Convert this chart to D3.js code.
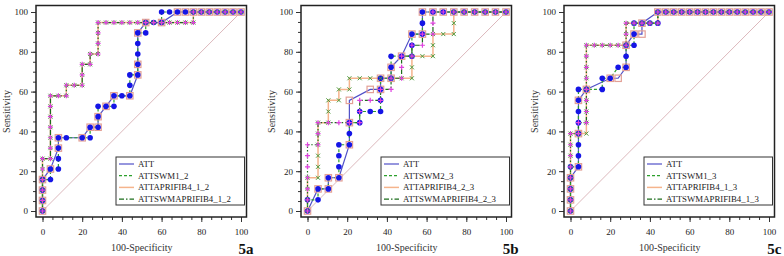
<!DOCTYPE html>
<html>
<head>
<meta charset="utf-8">
<script src="https://cdn.jsdelivr.net/npm/d3@7"></script>
<style>
body { margin: 0; background: #fff; }
svg { display: block; }
text { font-family: "Liberation Serif", "Times New Roman", serif; }
</style>
</head>
<body>
<div id="chart"></div>
<script>
// ROC points [100-Specificity, Sensitivity]

// panel 5a
const a_ATT = [[0,0],[0,5.3],[0,10.5],[0,15.8],[4,21.1],[8,31.6],[8,36.8],[20,36.8],[24,42.1],[28,42.1],[28,47.4],[32,52.6],[36,57.9],[44,57.9],[48,68.4],[48,73.7],[48,89.5],[52,94.7],[60,94.7],[68,100],[72,100],[76,100],[80,100],[84,100],[88,100],[92,100],[96,100],[100,100]]
const a_SWM = [[0,0],[0,5.3],[0,10.5],[0,15.8],[4,15.8],[4,21.1],[8,21.1],[8,26.3],[8,31.6],[8,36.8],[12,36.8],[20,36.8],[24,36.8],[24,42.1],[28,42.1],[28,47.4],[28,52.6],[32,52.6],[36,52.6],[36,57.9],[40,57.9],[44,57.9],[44,63.2],[44,68.4],[48,68.4],[48,73.7],[48,78.9],[48,84.2],[48,89.5],[52,89.5],[52,94.7],[56,94.7],[60,94.7],[60,100],[64,100],[68,100],[72,100],[76,100],[80,100],[84,100],[88,100],[92,100],[96,100],[100,100]]
const a_APRI = [[0,0],[0,5.3],[0,10.5],[0,15.8],[0,21.1],[0,26.3],[4,26.3],[4,31.6],[4,36.8],[4,42.1],[4,47.4],[4,52.6],[4,57.9],[8,57.9],[12,57.9],[12,63.2],[16,63.2],[20,63.2],[20,68.4],[20,73.7],[24,73.7],[24,78.9],[28,78.9],[28,84.2],[28,89.5],[28,94.7],[32,94.7],[36,94.7],[40,94.7],[44,94.7],[48,94.7],[52,94.7],[56,94.7],[60,94.7],[64,94.7],[68,94.7],[72,94.7],[76,94.7],[76,100],[80,100],[84,100],[88,100],[92,100],[96,100],[100,100]]
const a_SWMAPRI = [[0,0],[0,5.3],[0,10.5],[0,15.8],[0,21.1],[0,26.3],[4,26.3],[4,31.6],[4,36.8],[4,42.1],[4,47.4],[4,52.6],[4,57.9],[8,57.9],[12,57.9],[12,63.2],[16,63.2],[20,63.2],[20,68.4],[20,73.7],[24,73.7],[24,78.9],[28,78.9],[28,84.2],[28,89.5],[28,94.7],[32,94.7],[36,94.7],[40,94.7],[44,94.7],[48,94.7],[52,94.7],[56,94.7],[60,94.7],[64,94.7],[68,94.7],[72,94.7],[76,94.7],[76,100],[80,100],[84,100],[88,100],[92,100],[96,100],[100,100]]

// panel 5b
const b_ATT = [[0,0],[5.3,11.1],[10.5,11.1],[10.5,16.7],[15.8,16.7],[21.1,33.3],[21.1,44.4],[21.1,55.6],[31.6,61.1],[36.8,61.1],[36.8,66.7],[42.1,66.7],[42.1,72.2],[47.4,77.8],[52.6,88.9],[57.9,88.9],[57.9,100],[63.2,100],[68.4,100],[73.7,100],[78.9,100],[84.2,100],[89.5,100],[94.7,100],[100,100]]
const b_SWM = [[0,0],[0,5.6],[5.3,5.6],[5.3,11.1],[10.5,11.1],[10.5,16.7],[15.8,16.7],[15.8,22.2],[15.8,27.8],[15.8,33.3],[21.1,33.3],[21.1,38.9],[21.1,44.4],[26.3,44.4],[26.3,50],[31.6,50],[36.8,50],[36.8,55.6],[36.8,61.1],[36.8,66.7],[42.1,66.7],[42.1,72.2],[42.1,77.8],[47.4,77.8],[52.6,77.8],[52.6,83.3],[52.6,88.9],[57.9,88.9],[57.9,94.4],[57.9,100],[63.2,100],[68.4,100],[73.7,100],[78.9,100],[84.2,100],[89.5,100],[94.7,100],[100,100]]
const b_APRI = [[0,0],[0,5.6],[0,11.1],[0,16.7],[5.3,16.7],[5.3,22.2],[5.3,27.8],[5.3,33.3],[5.3,38.9],[5.3,44.4],[10.5,44.4],[10.5,50],[10.5,55.6],[15.8,55.6],[15.8,61.1],[21.1,61.1],[21.1,66.7],[26.3,66.7],[31.6,66.7],[36.8,66.7],[42.1,66.7],[47.4,66.7],[52.6,66.7],[52.6,72.2],[52.6,77.8],[57.9,77.8],[63.2,77.8],[63.2,83.3],[63.2,88.9],[68.4,88.9],[73.7,88.9],[73.7,94.4],[73.7,100],[78.9,100],[84.2,100],[89.5,100],[94.7,100],[100,100]]
const b_SWMAPRI = [[0,0],[0,5.6],[0,11.1],[0,16.7],[0,22.2],[0,27.8],[0,33.3],[5.3,33.3],[5.3,38.9],[5.3,44.4],[10.5,44.4],[15.8,44.4],[21.1,44.4],[26.3,44.4],[26.3,50],[26.3,55.6],[31.6,55.6],[36.8,55.6],[36.8,61.1],[42.1,61.1],[42.1,66.7],[47.4,66.7],[47.4,72.2],[47.4,77.8],[52.6,77.8],[52.6,83.3],[57.9,83.3],[57.9,88.9],[63.2,88.9],[63.2,94.4],[63.2,100],[68.4,100],[73.7,100],[78.9,100],[84.2,100],[89.5,100],[94.7,100],[100,100]]

// panel 5c
const c_ATT = [[0,0],[0,5.6],[0,11.1],[0,16.7],[4,22.2],[4,38.9],[4,55.6],[8,61.1],[20,66.7],[24,66.7],[28,72.2],[28,83.3],[32,88.9],[36,88.9],[36,94.4],[44,100],[48,100],[52,100],[56,100],[60,100],[64,100],[68,100],[72,100],[76,100],[80,100],[84,100],[88,100],[92,100],[96,100],[100,100]]
const c_SWM = [[0,0],[0,5.6],[0,11.1],[0,16.7],[0,22.2],[4,22.2],[4,27.8],[4,33.3],[4,38.9],[4,44.4],[4,50],[4,55.6],[4,61.1],[8,61.1],[16,61.1],[16,66.7],[20,66.7],[24,72.2],[28,72.2],[28,77.8],[28,83.3],[32,83.3],[32,88.9],[32,94.4],[36,94.4],[40,94.4],[44,94.4],[44,100],[48,100],[52,100],[56,100],[60,100],[64,100],[68,100],[72,100],[76,100],[80,100],[84,100],[88,100],[92,100],[96,100],[100,100]]
const c_APRI = [[0,0],[0,5.6],[0,11.1],[0,16.7],[0,22.2],[0,27.8],[0,33.3],[0,38.9],[4,38.9],[8,38.9],[8,44.4],[8,50],[8,55.6],[8,61.1],[8,66.7],[8,72.2],[8,77.8],[8,83.3],[12,83.3],[16,83.3],[20,83.3],[24,83.3],[28,83.3],[28,88.9],[28,94.4],[32,94.4],[36,94.4],[40,94.4],[44,94.4],[44,100],[48,100],[52,100],[56,100],[60,100],[64,100],[68,100],[72,100],[76,100],[80,100],[84,100],[88,100],[92,100],[96,100],[100,100]]
const c_SWMAPRI = [[0,0],[0,5.6],[0,11.1],[0,16.7],[0,22.2],[0,27.8],[0,33.3],[0,38.9],[4,38.9],[4,44.4],[8,44.4],[8,50],[8,55.6],[8,61.1],[8,66.7],[8,72.2],[8,77.8],[8,83.3],[12,83.3],[16,83.3],[20,83.3],[24,83.3],[28,83.3],[28,88.9],[28,94.4],[32,94.4],[36,94.4],[40,94.4],[44,94.4],[44,100],[48,100],[52,100],[56,100],[60,100],[64,100],[68,100],[72,100],[76,100],[80,100],[84,100],[88,100],[92,100],[96,100],[100,100]]

const legendA = ['ATT', 'ATTSWM1_2', 'ATTAPRIFIB4_1_2', 'ATTSWMAPRIFIB4_1_2']
const legendB = ['ATT', 'ATTSWM2_3', 'ATTAPRIFIB4_2_3', 'ATTSWMAPRIFIB4_2_3']
const legendC = ['ATT', 'ATTSWM1_3', 'ATTAPRIFIB4_1_3', 'ATTSWMAPRIFIB4_1_3']
const panelLabels = ['5a', '5b', '5c']
const majorTicks = [0, 20, 40, 60, 80, 100]
const minorTicks = [0,5,10,15,20,25,30,35,40,45,50,55,60,65,70,75,80,85,90,95,100]

const panels = [
    { label: panelLabels[0], x0: 42.5, names: legendA, data: [a_ATT, a_SWM, a_APRI, a_SWMAPRI] },
    { label: panelLabels[1], x0: 307.5, names: legendB, data: [b_ATT, b_SWM, b_APRI, b_SWMAPRI] },
    { label: panelLabels[2], x0: 570.5, names: legendC, data: [c_ATT, c_SWM, c_APRI, c_SWMAPRI] }
]

// line styles per series: ATT, SWM, APRI, SWMAPRI
const lineStyle = [
    { color: '#5050c8', dash: null, width: 1.2 },
    { color: '#2ca02c', dash: '3,2', width: 1.2 },
    { color: '#f5b48c', dash: null, width: 1.5 },
    { color: '#1d6e1d', dash: '5,2,1.5,2', width: 1.2 }
]

const width = 784, height = 256
const plotW = 198.5
const yTop = 12, yBottom = 211

const svg = d3.select('#chart')
    .append('svg')
    .attr('width', width)
    .attr('height', height)

panels.forEach(p => {
    const xScale = d3.scaleLinear().domain([0, 100]).range([p.x0, p.x0 + plotW])
    const yScale = d3.scaleLinear().domain([0, 100]).range([yBottom, yTop])

    const frameL = p.x0 - 6.5, frameR = p.x0 + plotW + 5.5
    const frameT = 5.5, frameB = 217

    const g = svg.append('g')

    // axes (major + minor ticks)
    const xMajor = g.append('g')
        .attr('transform', `translate(0, ${frameB})`)
        .call(d3.axisBottom(xScale).tickValues(majorTicks).tickSize(5).tickPadding(7))
    const xMinor = g.append('g')
        .attr('transform', `translate(0, ${frameB})`)
        .call(d3.axisBottom(xScale).tickValues(minorTicks).tickSize(3).tickFormat(''))
    const yMajor = g.append('g')
        .attr('transform', `translate(${frameL}, 0)`)
        .call(d3.axisLeft(yScale).tickValues(majorTicks).tickSize(5).tickPadding(3))
    const yMinor = g.append('g')
        .attr('transform', `translate(${frameL}, 0)`)
        .call(d3.axisLeft(yScale).tickValues(minorTicks).tickSize(3).tickFormat(''))

    ;[xMajor, xMinor, yMajor, yMinor].forEach(ax => {
        ax.select('.domain').remove()
        ax.selectAll('line').attr('stroke', '#333')
        ax.selectAll('text')
            .attr('font-family', '"Liberation Serif", serif')
            .attr('font-size', 9)
            .attr('fill', '#222')
    })

    // frame
    g.append('rect')
        .attr('x', frameL)
        .attr('y', frameT)
        .attr('width', frameR - frameL)
        .attr('height', frameB - frameT)
        .attr('fill', 'none')
        .attr('stroke', '#222')
        .attr('stroke-width', 1.5)

    // reference diagonal
    g.append('line')
        .attr('x1', xScale(0)).attr('y1', yScale(0))
        .attr('x2', xScale(100)).attr('y2', yScale(100))
        .attr('stroke', '#dcb8bc')
        .attr('stroke-width', 1)

    const lineGenerator = d3.line()
        .x(d => xScale(d[0]))
        .y(d => yScale(d[1]))

    // draw order: orange, blue, green dashed, dash-dot
    ;[2, 0, 1, 3].forEach(i => {
        const s = lineStyle[i]
        g.append('path')
            .datum(p.data[i])
            .attr('d', lineGenerator)
            .attr('fill', 'none')
            .attr('stroke', s.color)
            .attr('stroke-width', s.width)
            .attr('stroke-dasharray', s.dash)
    })

    // markers
    // ATT: hollow square
    g.append('g').selectAll('rect')
        .data(p.data[0])
        .join('rect')
        .attr('x', d => xScale(d[0]) - 3.2)
        .attr('y', d => yScale(d[1]) - 3.2)
        .attr('width', 6.4)
        .attr('height', 6.4)
        .attr('fill', 'none')
        .attr('stroke', '#e3a096')
        .attr('stroke-width', 1.2)

    // SWM: filled blue circle
    g.append('g').selectAll('circle')
        .data(p.data[1])
        .join('circle')
        .attr('cx', d => xScale(d[0]))
        .attr('cy', d => yScale(d[1]))
        .attr('r', 2.8)
        .attr('fill', '#1515e6')

    // APRI: green x
    g.append('g').selectAll('path')
        .data(p.data[2])
        .join('path')
        .attr('d', d => {
            const cx = xScale(d[0]), cy = yScale(d[1]), r = 2
            return `M${cx - r},${cy - r}L${cx + r},${cy + r}M${cx - r},${cy + r}L${cx + r},${cy - r}`
        })
        .attr('stroke', '#4d9a3c')
        .attr('stroke-width', 1)

    // SWMAPRI: magenta +
    g.append('g').selectAll('path')
        .data(p.data[3])
        .join('path')
        .attr('d', d => {
            const cx = xScale(d[0]), cy = yScale(d[1]), r = 2.5
            return `M${cx - r},${cy}L${cx + r},${cy}M${cx},${cy - r}L${cx},${cy + r}`
        })
        .attr('stroke', '#e040e0')
        .attr('stroke-width', 1.2)

    // legend
    const lx = frameL + 80, rx = frameR - 2
    const leg = g.append('g')
    leg.append('rect')
        .attr('x', lx).attr('y', 157)
        .attr('width', rx - lx).attr('height', 48)
        .attr('fill', '#fff')
        .attr('stroke', '#333')
        .attr('stroke-width', 1)
    p.names.forEach((name, i) => {
        const yy = 164 + i * 11.7
        const s = lineStyle[i]
        leg.append('line')
            .attr('x1', lx + 3).attr('x2', lx + 18)
            .attr('y1', yy).attr('y2', yy)
            .attr('stroke', s.color)
            .attr('stroke-width', s.width)
            .attr('stroke-dasharray', s.dash)
        leg.append('text')
            .attr('x', lx + 22).attr('y', yy)
            .attr('dy', '0.35em')
            .attr('font-size', 8.8)
            .attr('fill', '#222')
            .text(name)
    })

    // axis titles
    g.append('text')
        .attr('transform', `translate(${frameL - 30}, ${(yTop + yBottom) / 2}) rotate(-90)`)
        .attr('text-anchor', 'middle')
        .attr('dy', '0.35em')
        .attr('font-size', 10)
        .attr('fill', '#333')
        .text('Sensitivity')
    g.append('text')
        .attr('x', p.x0 + plotW / 2)
        .attr('y', 247)
        .attr('text-anchor', 'middle')
        .attr('dy', '0.35em')
        .attr('font-size', 10)
        .attr('fill', '#333')
        .text('100-Specificity')

    // panel label
    g.append('text')
        .attr('x', frameR + 7)
        .attr('y', 254)
        .attr('text-anchor', 'end')
        .attr('font-size', 15)
        .attr('font-weight', 'bold')
        .attr('fill', '#111')
        .text(p.label)
})
</script>
</body>
</html>
